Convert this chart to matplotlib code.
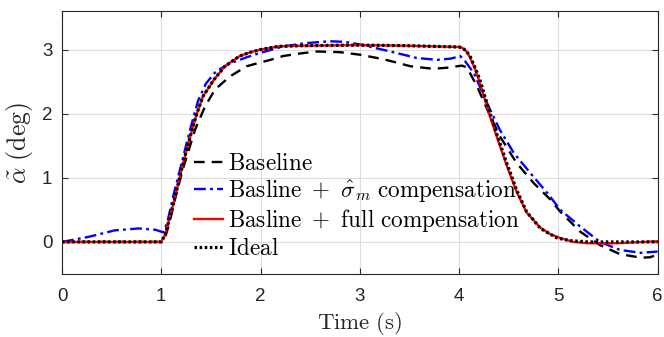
import matplotlib
matplotlib.use("Agg")
import matplotlib.pyplot as plt

plt.rcParams['mathtext.fontset'] = 'cm'
plt.rcParams['font.family'] = ['Liberation Sans', 'DejaVu Sans']

# ---- data ----
t_ideal = [0, 1.0, 1.04, 1.08, 1.14, 1.22, 1.31, 1.36, 1.42, 1.53, 1.64, 1.79, 1.9, 2.0,
           2.18, 2.4, 3.0, 3.5, 4.0, 4.03, 4.07, 4.11, 4.16, 4.21, 4.31, 4.40, 4.48, 4.58,
           4.68, 4.82, 4.92, 4.99, 5.12, 5.3, 6.0]
v_ideal = [0, 0, 0.12, 0.35, 0.71, 1.23, 1.75, 2.01, 2.27, 2.53, 2.74, 2.9, 2.96, 3.0,
           3.05, 3.06, 3.07, 3.06, 3.04, 3.03, 2.98, 2.9, 2.72, 2.53, 2.01, 1.59, 1.23, 0.81,
           0.47, 0.21, 0.12, 0.06, 0.02, 0.0, 0.0]

t_full = [0, 1.0, 1.04, 1.08, 1.14, 1.22, 1.31, 1.36, 1.42, 1.53, 1.64, 1.79, 1.9, 2.0,
          2.18, 2.4, 3.0, 3.5, 4.0, 4.03, 4.07, 4.11, 4.16, 4.21, 4.31, 4.40, 4.48, 4.58,
          4.68, 4.82, 4.92, 5.02, 5.15, 5.3, 5.6, 6.0]
v_full = [0, 0, 0.12, 0.35, 0.71, 1.23, 1.75, 2.01, 2.27, 2.53, 2.74, 2.9, 2.96, 3.0,
          3.05, 3.06, 3.07, 3.06, 3.04, 3.03, 2.98, 2.88, 2.70, 2.48, 1.96, 1.55, 1.19, 0.78,
          0.46, 0.22, 0.12, 0.06, 0.0, -0.02, -0.02, 0.01]

t_base = [0, 1.0, 1.04, 1.08, 1.14, 1.22, 1.34, 1.44, 1.54, 1.69, 1.86, 2.0, 2.1, 2.23,
          2.4, 2.57, 2.8, 3.0, 3.24, 3.51, 3.74, 3.9, 3.98, 4.03, 4.08, 4.18, 4.30, 4.41,
          4.58, 4.75, 4.92, 5.02, 5.22, 5.42, 5.62, 5.83, 5.92, 6.0]
v_base = [0, 0, 0.08, 0.28, 0.68, 1.15, 1.75, 2.11, 2.375, 2.58, 2.74, 2.8, 2.84, 2.9,
          2.94, 2.97, 2.96, 2.92, 2.85, 2.74, 2.70, 2.72, 2.74, 2.75, 2.72, 2.43, 2.01, 1.65,
          1.23, 0.92, 0.66, 0.47, 0.16, -0.05, -0.19, -0.245, -0.24, -0.2]

t_sig = [0, 0.27, 0.53, 0.77, 0.94, 1.02, 1.06, 1.12, 1.2, 1.29, 1.37, 1.45, 1.55, 1.70,
         1.86, 1.9, 2.0, 2.23, 2.45, 2.70, 2.85, 3.0, 3.31, 3.57, 3.78, 3.92, 4.01, 4.06,
         4.15, 4.28, 4.41, 4.55, 4.72, 4.89, 5.02, 5.22, 5.42, 5.62, 5.83, 6.0]
v_sig = [0, 0.08, 0.18, 0.21, 0.19, 0.15, 0.3, 0.71, 1.2, 1.75, 2.2, 2.47, 2.66, 2.79,
         2.88, 2.9, 2.95, 3.05, 3.1, 3.13, 3.12, 3.08, 2.97, 2.87, 2.84, 2.86, 2.9, 2.82,
         2.63, 2.17, 1.75, 1.39, 1.07, 0.76, 0.5, 0.24, 0.0, -0.125, -0.17, -0.15]

labels = [r'$\mathrm{Baseline}$',
          r'$\mathrm{Basline\ +\ }\hat{\sigma}_m\mathrm{\ compensation}$',
          r'$\mathrm{Basline\ +\ full\ compensation}$',
          r'$\mathrm{Ideal}$']
x_ticks = [0, 1, 2, 3, 4, 5, 6]
y_ticks = [0, 1, 2, 3]

fig = plt.figure(figsize=(6.64, 3.37), dpi=100)
ax = fig.add_axes([0.0934, 0.187, 0.897, 0.780])

ax.plot(t_base, v_base, color='black', lw=1.7, ls=(0, (4.5, 3)), label=labels[0])
ax.plot(t_sig, v_sig, color='#0000ff', lw=1.7, ls=(0, (5, 1.8, 1.2, 1.8)), label=labels[1])
ax.plot(t_full, v_full, color='#ff0000', lw=1.7, ls='-', label=labels[2])
ax.plot(t_ideal, v_ideal, color='black', lw=2.3, ls=(0, (0.8, 0.8)), label=labels[3])

ax.set_xlim(0, 6)
ax.set_ylim(-0.5, 3.6)
ax.set_xticks(x_ticks)
ax.set_yticks(y_ticks)
ax.grid(True, color='#dcdcdc', lw=0.8)
ax.set_axisbelow(True)
ax.tick_params(direction='in', top=True, right=True, labelsize=13.5, colors='#262626',
               length=4, width=0.8)
ax.tick_params(axis='x', pad=10)
ax.tick_params(axis='y', pad=7)
for s in ax.spines.values():
    s.set_color('#262626')
    s.set_linewidth(0.8)

ax.set_xlabel(r'$\mathrm{Time\ (s)}$', fontsize=16.5, color='#262626', labelpad=4)
ax.set_ylabel(r'$\tilde{\alpha}\ \mathrm{(deg)}$', fontsize=18.5, color='#262626', labelpad=5)

leg = ax.legend(loc='upper left', bbox_to_anchor=(0.213, 0.483), frameon=False,
                fontsize=16.7, handlelength=1.25, handletextpad=0.25, labelspacing=0.12,
                borderpad=0.2, borderaxespad=0.0)

fig.savefig('out.png', dpi=100)
